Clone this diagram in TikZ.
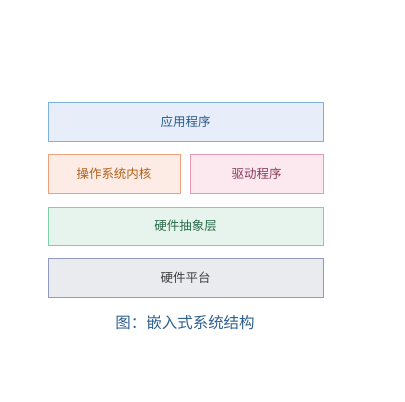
\documentclass[tikz,border=0pt]{standalone}
\usepackage{fontspec}
\setmainfont{Noto Sans CJK SC}
\definecolor{appfill}{HTML}{E8EEF9}
\definecolor{appline}{HTML}{7EB0E0}
\definecolor{apptext}{HTML}{2A5A8A}
\definecolor{osfill}{HTML}{FCECE5}
\definecolor{osline}{HTML}{F0A07A}
\definecolor{ostext}{HTML}{B0601A}
\definecolor{drvfill}{HTML}{FBE9EF}
\definecolor{drvline}{HTML}{E89AB5}
\definecolor{drvtext}{HTML}{8A3A5A}
\definecolor{halfill}{HTML}{E7F4EE}
\definecolor{halline}{HTML}{80CFAC}
\definecolor{haltext}{HTML}{2A6A4A}
\definecolor{hwfill}{HTML}{E9EBEF}
\definecolor{hwline}{HTML}{8E9BBD}
\definecolor{hwtext}{HTML}{404040}
\definecolor{captext}{HTML}{2E5F8E}
\tikzset{
	layer/.style={draw=#1line,fill=#1fill,text=#1text,line width=0.8pt,
		minimum height=39pt,inner sep=0pt,font=\fontsize{12.5}{14}\selectfont}
}
\begin{document}
\begin{tikzpicture}[x=1pt,y=-1pt]
\useasboundingbox[fill=white] (0,0) rectangle (405,402);
\node[layer=app,minimum width=275pt] (app) at (185.5,121.5) {应用程序};
\node[layer=os,minimum width=132pt] (os) at (114,173.5) {操作系统内核};
\node[layer=drv,minimum width=133pt] (drv) at (256.5,173.5) {驱动程序};
\node[layer=hal,minimum width=275pt,minimum height=38pt] (hal) at (185.5,226) {硬件抽象层};
\node[layer=hw,minimum width=275pt] (hw) at (185.5,277.5) {硬件平台};
\node[text=captext,font=\fontsize{15.5}{18}\selectfont] (cap) at (185,323) {图：嵌入式系统结构};
\end{tikzpicture}
\end{document}
